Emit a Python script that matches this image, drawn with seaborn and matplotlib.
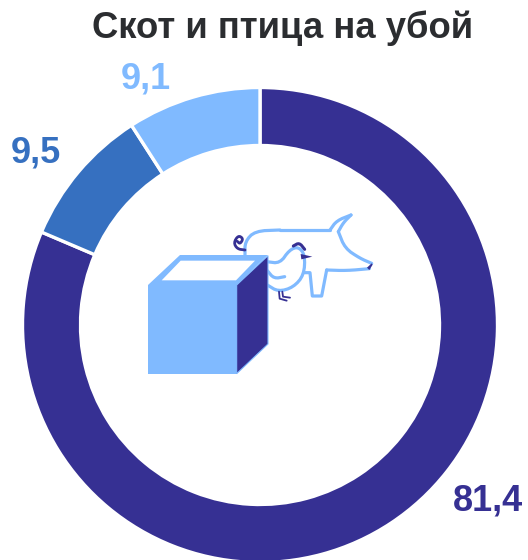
import numpy as np
import matplotlib
matplotlib.use("Agg")
import matplotlib.pyplot as plt
from matplotlib.patches import Polygon
import seaborn as sns

title = "Скот и птица на убой"
categories = ["Крупный", "Средний", "Мелкий"]
values = [81.4, 9.5, 9.1]
colors = ["#363093", "#3670C0", "#80BAFF"]
label_pos = [(488, 501), (35.5, 153), (145.5, 79)]

W, H = 528, 560
sns.set_theme(style="white")
plt.rcParams["font.family"] = ["Liberation Sans", "DejaVu Sans"]
palette = sns.color_palette(colors)
DARK, MID, LIGHT = colors

fig = plt.figure(figsize=(W / 100, H / 100), dpi=100, facecolor="white")
ax = fig.add_axes([0, 0, 1, 1])
ax.pie(values, colors=palette, startangle=90, counterclock=False,
       center=(260, H - 325), radius=237.5,
       wedgeprops=dict(width=58, edgecolor="white", linewidth=2.4))
ax.set_xlim(0, W)
ax.set_ylim(0, H)
ax.set_aspect("equal")
ax.axis("off")


def px(pts):
    """Pixel coordinates (y down) to axes data."""
    a = np.asarray(pts, float)
    return np.c_[a[:, 0], H - a[:, 1]]


def zpx(pts):
    """Icon sketch coordinates (3x crop at 130,200) to pixels."""
    a = np.asarray(pts, float)
    return np.c_[a[:, 0] / 3 + 130, a[:, 1] / 3 + 200]


def smooth(pts, n=2):
    a = np.asarray(pts, float)
    for _ in range(n):
        q = 0.75 * a[:-1] + 0.25 * a[1:]
        r = 0.25 * a[:-1] + 0.75 * a[1:]
        b = np.empty((2 * len(q), 2))
        b[0::2], b[1::2] = q, r
        a = np.vstack([a[:1], b, a[-1:]])
    return a


def stroke(pts, color, lw=2.3, z=3, sm=True):
    a = px(zpx(smooth(pts) if sm else pts))
    ax.plot(a[:, 0], a[:, 1], color=color, lw=lw, zorder=z,
            solid_capstyle="round", solid_joinstyle="round")


def poly(pts, color, z, ec="none", lw=0):
    ax.add_patch(Polygon(px(zpx(pts)), closed=True, fc=color, ec=ec, lw=lw, zorder=z))


# Pig
stroke([(345, 165), (345, 125), (375, 93), (450, 90)], LIGHT)
stroke([(450, 90), (600, 90)], LIGHT, sm=False)
stroke([(600, 90), (620, 62), (663, 45)], LIGHT)
stroke([(663, 45), (640, 68), (625, 95)], LIGHT)
stroke([(625, 95), (645, 145), (690, 175), (725, 190)], LIGHT)
stroke([(718, 206), (650, 212), (590, 210)], LIGHT)
stroke([(590, 210), (575, 288), (547, 288), (540, 218), (515, 218)], LIGHT, sm=False)
poly([(725, 190), (728, 194), (718, 210), (711, 203)], DARK, 4)
stroke([(345, 150), (322, 147), (311, 128), (325, 106), (340, 116), (330, 132), (322, 124)],
       DARK, 2.0)

# Chicken
chicken_line = [(410, 185), (450, 190), (478, 150), (505, 140), (525, 165), (522, 225),
                (490, 262), (445, 275), (412, 255)]
poly(smooth(chicken_line), "white", 5)
stroke(chicken_line, LIGHT, 2.3, 6)
stroke([(412, 212), (432, 236), (464, 230)], LIGHT, 2.3, 6)
stroke([(490, 138), (508, 128), (524, 148)], DARK, 2.2, 6)
poly([(512, 162), (547, 170), (514, 178)], DARK, 6)
stroke([(447, 275), (449, 296), (470, 302)], DARK, 1.3, 6, sm=False)
stroke([(457, 275), (459, 290), (480, 293)], DARK, 1.3, 6, sm=False)

# Cube
poly([(54, 255), (150, 165), (413, 165), (320, 255)], LIGHT, 7)
poly([(95, 241), (152, 182), (375, 182), (318, 241)], "white", 8)
poly([(54, 255), (320, 255), (320, 521), (54, 521)], LIGHT, 9)
poly([(320, 255), (414, 167), (414, 432), (320, 521)], DARK, 9, ec=LIGHT, lw=0.8)

# Texts
for v, c, (x, y) in zip(values, colors, label_pos):
    ax.text(x, H - y, f"{v:.1f}".replace(".", ","), color=c, fontsize=26,
            fontweight="bold", ha="center", va="center", zorder=10)
ax.text(283, H - 28.5, title, color="#2B2D30", fontsize=26.3, fontweight="bold",
        ha="center", va="center", zorder=10)

fig.savefig("out.png", dpi=100, facecolor="white")
